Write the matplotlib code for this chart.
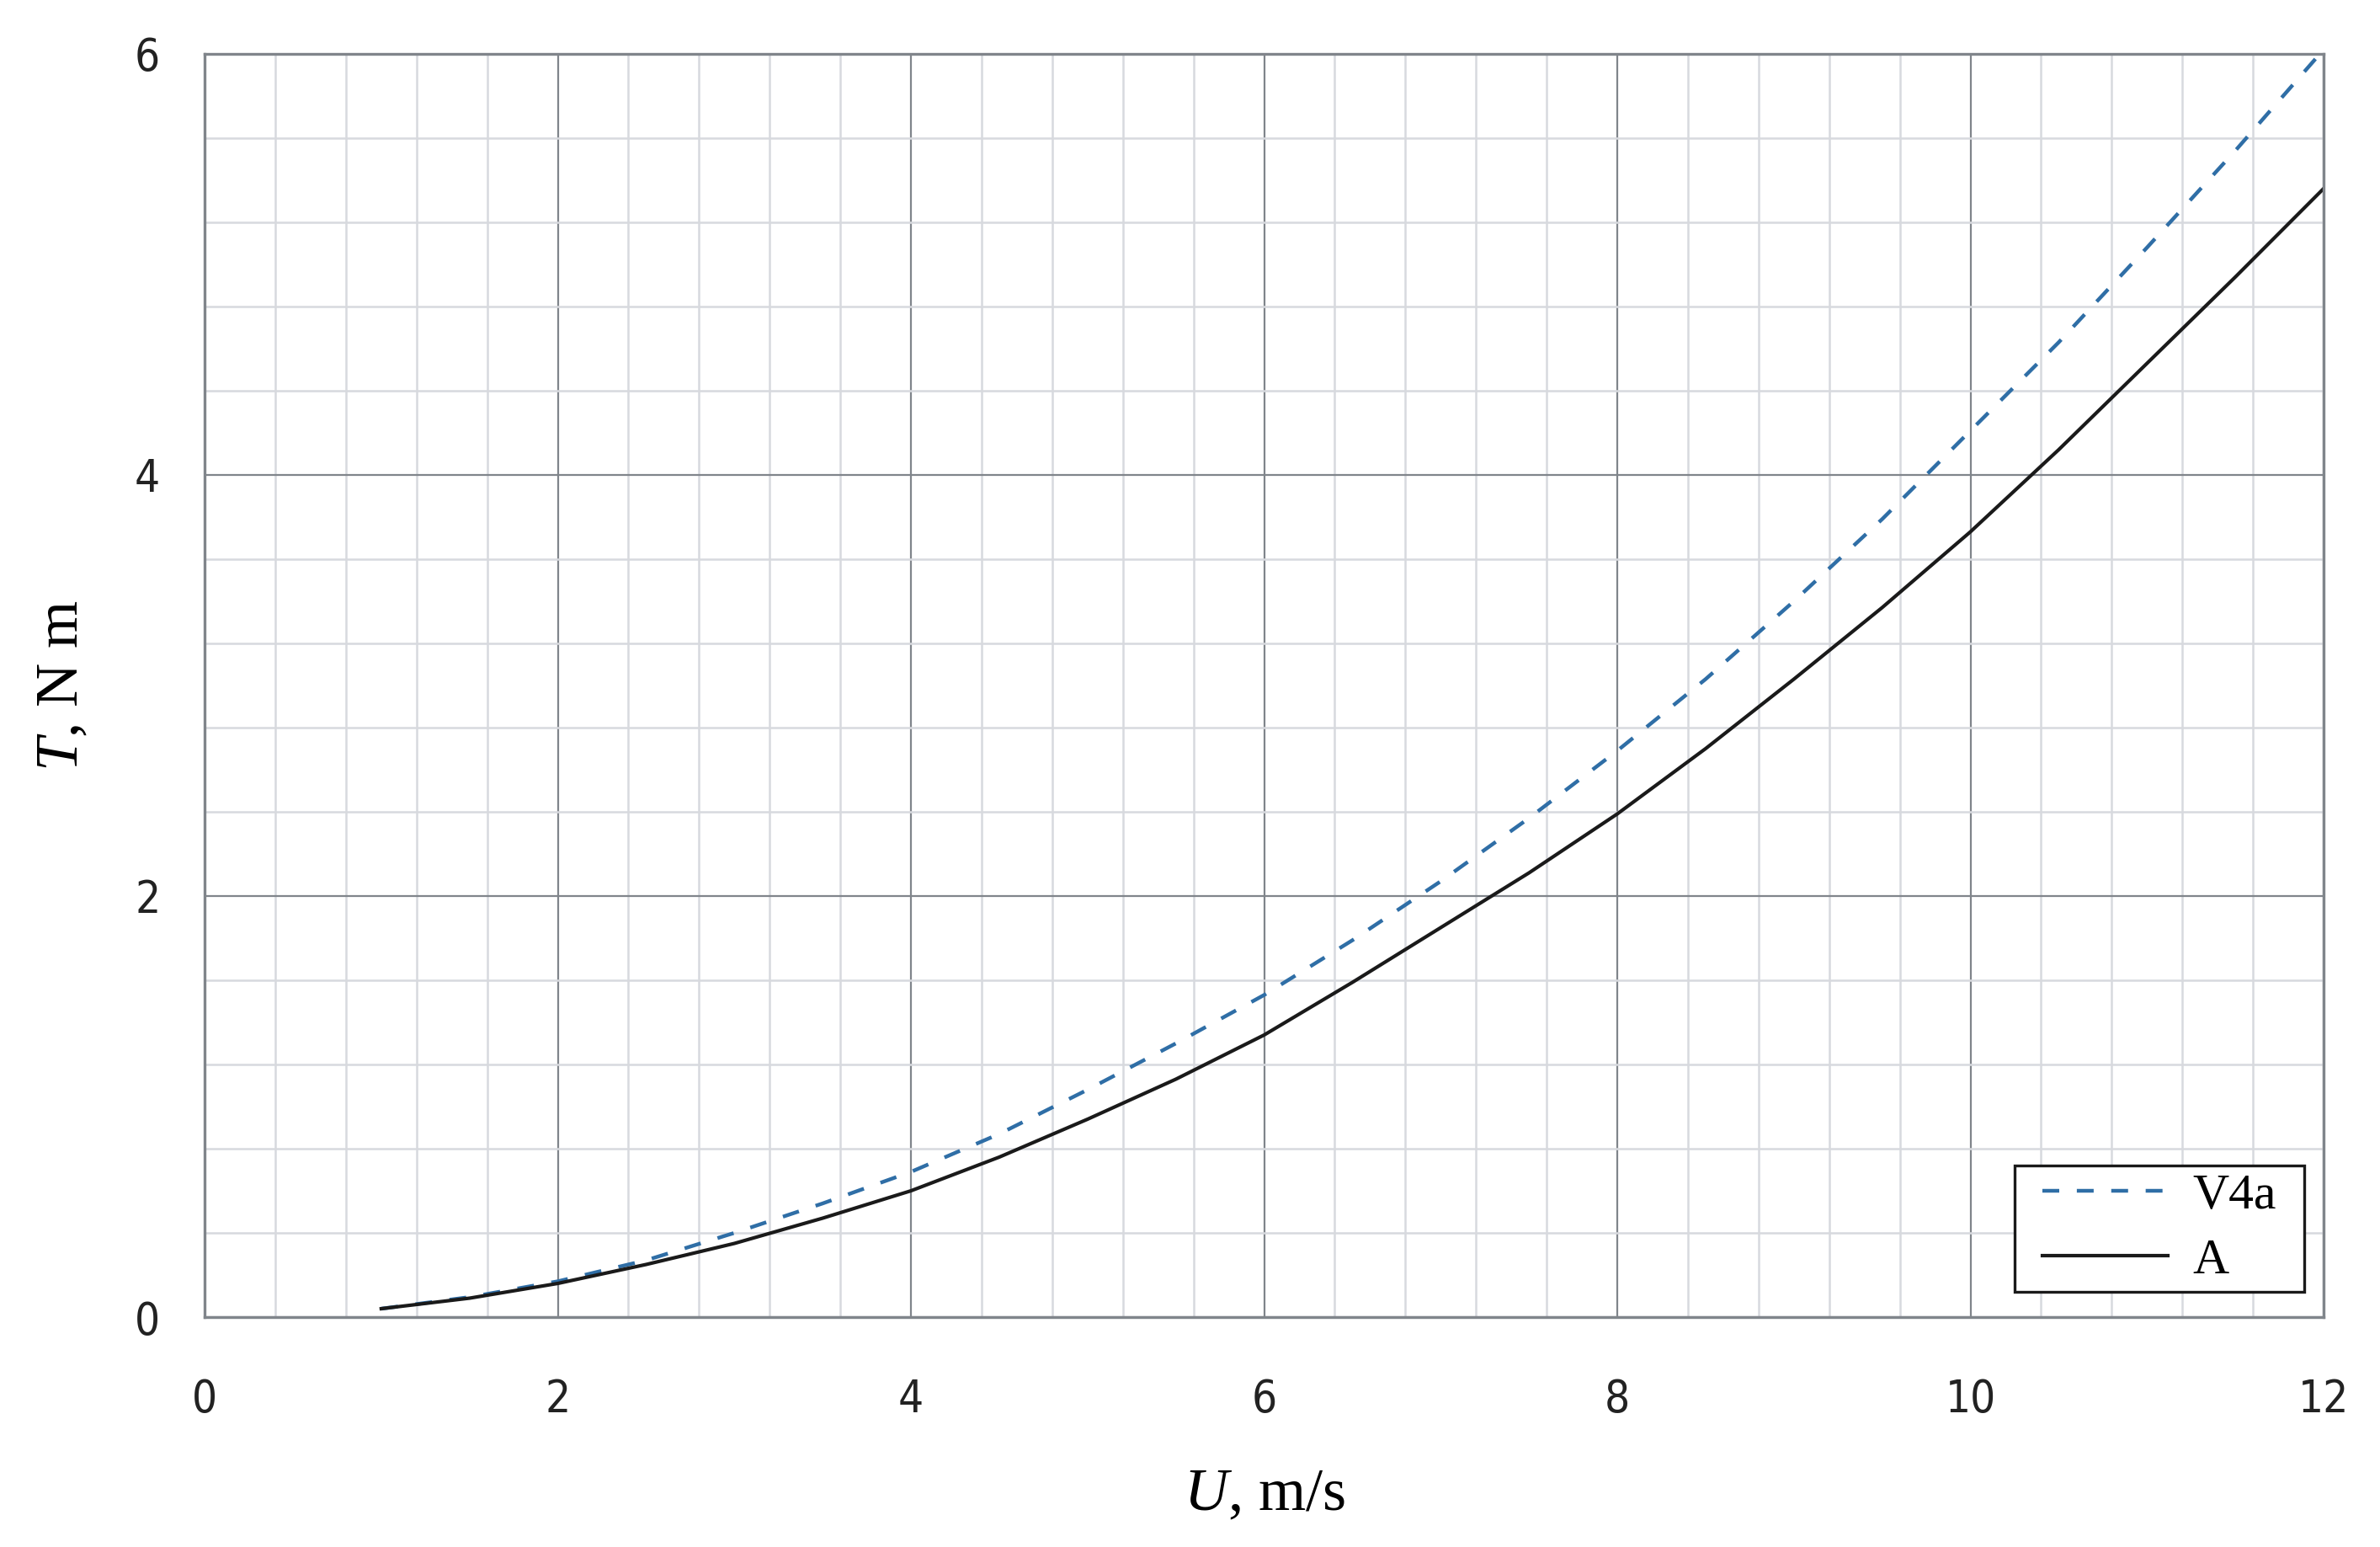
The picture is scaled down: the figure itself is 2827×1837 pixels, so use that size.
import matplotlib
matplotlib.use("Agg")
import matplotlib.pyplot as plt
from matplotlib.patches import Rectangle
from matplotlib.ticker import MultipleLocator

plt.rcParams["mathtext.fontset"] = "custom"
plt.rcParams["mathtext.rm"] = "Liberation Serif"
plt.rcParams["mathtext.it"] = "Liberation Serif:italic"

# wind speed U (m/s) and torque T (N m)
u = [1, 1.5, 2, 2.5, 3, 3.5, 4, 4.5, 5, 5.5, 6, 6.5, 7, 7.5, 8, 8.5, 9, 9.5,
     10, 10.5, 11, 11.5, 12]
t_v4a = [0.04, 0.095, 0.17, 0.27, 0.40, 0.54, 0.69, 0.87, 1.08, 1.30, 1.53,
         1.79, 2.07, 2.37, 2.69, 3.03, 3.40, 3.79, 4.21, 4.63, 5.08, 5.54, 6.02]
t_a = [0.04, 0.09, 0.16, 0.25, 0.35, 0.47, 0.60, 0.76, 0.94, 1.13, 1.34,
       1.59, 1.85, 2.11, 2.39, 2.70, 3.03, 3.37, 3.73, 4.12, 4.53, 4.94, 5.36]

MAJ = "#80858b"
MIN = "#d7d9de"

fig = plt.figure(figsize=(28.27, 18.37), dpi=100)
ax = fig.add_axes([0.086, 0.1486, 0.8903, 0.8166])

ax.plot(u, t_v4a, color="#2f6ea6", lw=3.2, dashes=(4.5, 4.7), label="V4a")
ax.plot(u, t_a, color="#1a1a1a", lw=3.0, label="A")

ax.set_xlim(0, 12)
ax.set_ylim(0, 6)
ax.xaxis.set_major_locator(MultipleLocator(2))
ax.xaxis.set_minor_locator(MultipleLocator(0.4))
ax.yaxis.set_major_locator(MultipleLocator(2))
ax.yaxis.set_minor_locator(MultipleLocator(0.4))
ax.grid(which="major", color=MAJ, lw=1.6)
ax.grid(which="minor", color=MIN, lw=1.8)
ax.set_axisbelow(True)
for s in ax.spines.values():
    s.set_color(MAJ)
    s.set_linewidth(2.4)

ax.tick_params(which="both", length=0)
ax.tick_params(axis="x", pad=52, labelsize=38)
ax.tick_params(axis="y", pad=38, labelsize=38)
for lab in ax.get_xticklabels() + ax.get_yticklabels():
    lab.set_family("DejaVu Sans")
    lab.set_stretch("condensed")
    lab.set_color("#222222")

ax.set_xlabel(r"$U$, m/s", family="Liberation Serif", fontsize=52, labelpad=40)
ax.set_ylabel(r"$T$, N m", family="Liberation Serif", fontsize=52, labelpad=38)

# legend box drawn by hand so the side padding can differ from the top/bottom
box = Rectangle((0.854, 0.02), 0.137, 0.0997, transform=ax.transAxes,
                facecolor="white", edgecolor="#1a1a1a", lw=2.4, zorder=4)
ax.add_patch(box)
leg = ax.legend(loc="center", bbox_to_anchor=(0.9225, 0.07), borderaxespad=0,
                prop={"family": "Liberation Serif", "size": 43},
                frameon=False, handlelength=2.5, handletextpad=0.5,
                labelspacing=0.37, borderpad=0)
leg.set_zorder(5)

fig.savefig("out.png", dpi=100)
